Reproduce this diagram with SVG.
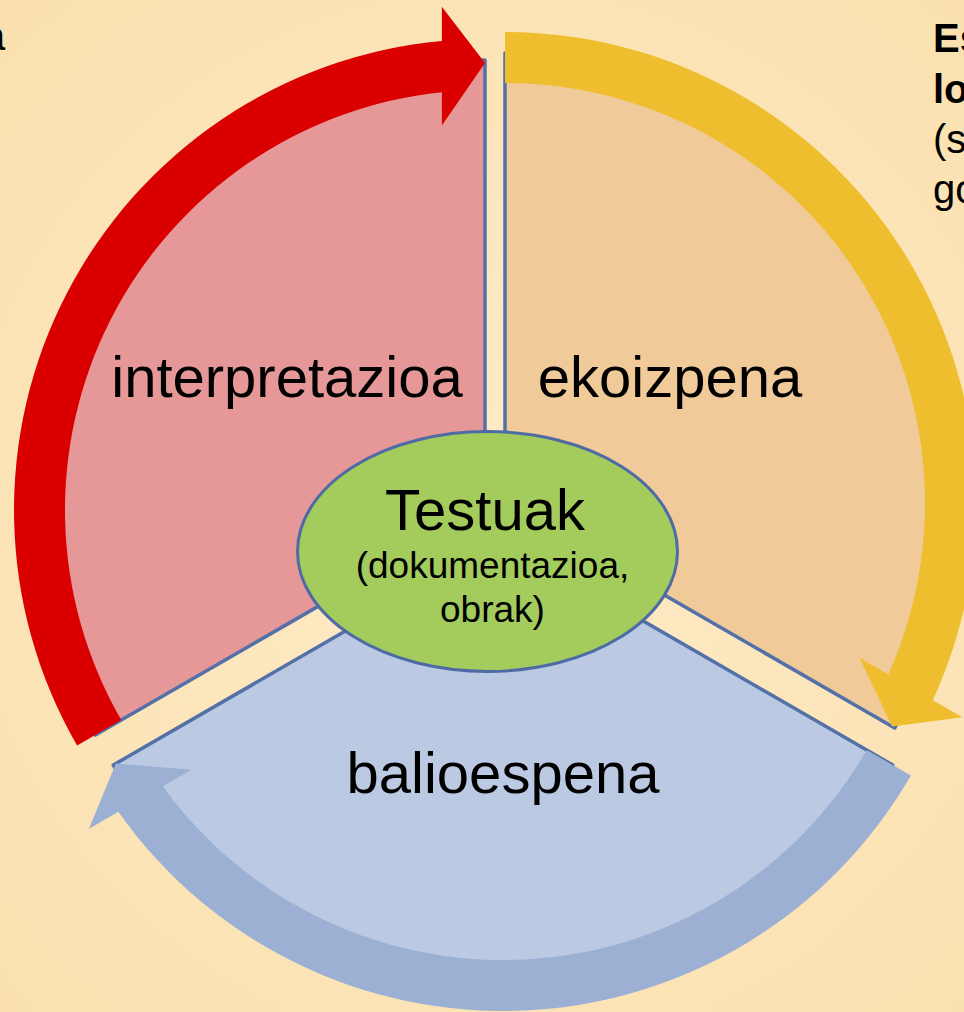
<svg xmlns="http://www.w3.org/2000/svg" width="964" height="1012" viewBox="0 0 964 1012">
  <defs>
    <radialGradient id="bg" cx="495" cy="520" r="720" gradientUnits="userSpaceOnUse">
      <stop offset="0" stop-color="#FEEBC7"/>
      <stop offset="1" stop-color="#FAE0AE"/>
    </radialGradient>
    <path id="sector" d="M0,0 L-389.71,225 A450,450 0 0 1 0,-450 Z"/>
    <path id="arrow" d="M-407.90,235.5 A471,471 0 0 1 -43.14,-469.02 L-43.14,-503.16 L0,-447 L-43.14,-384.59 L-43.14,-417.78 A420,420 0 0 0 -363.73,210 Z"/>
  </defs>
  <style>
    .sec { stroke: #5470A8; stroke-width: 3.5; stroke-linejoin: round; }
    .big { font-family: "Liberation Sans", Arial, sans-serif; font-size: 58px; fill: #000; text-anchor: middle; }
    .small { font-family: "Liberation Sans", Arial, sans-serif; font-size: 37px; fill: #000; text-anchor: middle; }
    .side { font-family: "Liberation Sans", Arial, sans-serif; font-size: 40px; fill: #000; }
  </style>
  <rect x="0" y="0" width="964" height="1012" fill="url(#bg)"/>

  <text class="side" x="-17" y="50" font-size="58">a</text>
  <g class="side">
    <text x="933" y="52" font-weight="bold">Es</text>
    <text x="933" y="103" font-weight="bold">lo</text>
    <text x="933" y="153">(s</text>
    <text x="933" y="203">go</text>
  </g>

  <g id="node-interpretazioa">
    <use href="#sector" class="sec" transform="translate(485,510)" fill="#E69797"/>
    <text class="big" x="287" y="397">interpretazioa</text>
  </g>
  <g id="node-ekoizpena">
    <use href="#sector" class="sec" transform="translate(505,503) rotate(120)" fill="#F0CA98"/>
    <text class="big" x="670" y="397">ekoizpena</text>
  </g>
  <g id="node-balioespena">
    <use href="#sector" class="sec" transform="translate(503,540) rotate(240)" fill="#BBCAE2"/>
    <text class="big" x="503" y="793">balioespena</text>
  </g>

  <g id="connectors">
    <use href="#arrow" transform="translate(485,510)" fill="#DA0000"/>
    <use href="#arrow" transform="translate(505,503) rotate(120)" fill="#EEBE2E"/>
    <use href="#arrow" transform="translate(503,540) rotate(240)" fill="#9CB0D4"/>
  </g>

  <g id="node-testuak">
    <ellipse cx="487.5" cy="551.5" rx="190" ry="120" fill="#A3CC5C" stroke="#4E6BA6" stroke-width="3"/>
    <text class="big" x="485" y="530">Testuak</text>
    <text class="small" x="492.5" y="578">(dokumentazioa,</text>
    <text class="small" x="492.5" y="622">obrak)</text>
  </g>
</svg>
